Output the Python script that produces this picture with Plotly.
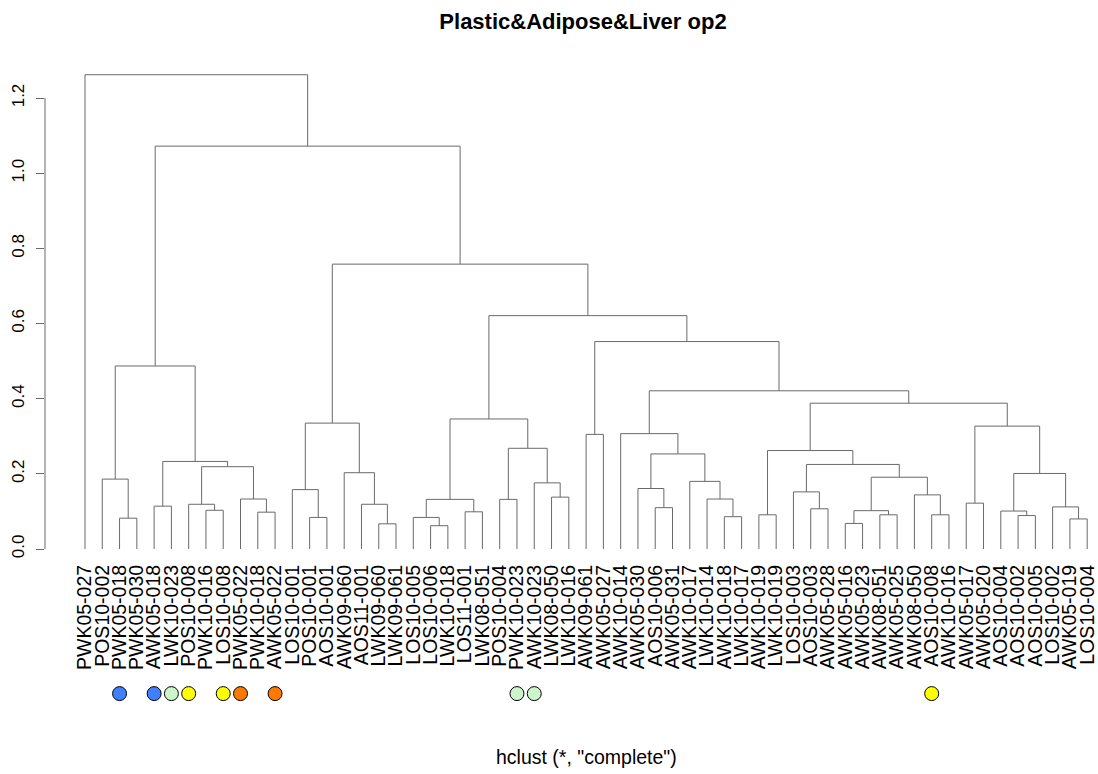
import plotly.graph_objects as go

# Leaf labels in dendrogram display order (left to right)
leaf_labels = [
    "PWK05-027", "POS10-002", "PWK05-018", "PWK05-030", "AWK05-018", "LWK10-023",
    "POS10-008", "PWK10-016", "LOS10-008", "PWK05-022", "PWK10-018", "AWK05-022",
    "LOS10-001", "POS10-001", "AOS10-001", "AWK09-060", "AOS11-001", "LWK09-060",
    "LWK09-061", "LOS10-005", "LOS10-006", "LWK10-018", "LOS11-001", "LWK08-051",
    "POS10-004", "PWK10-023", "AWK10-023", "LWK08-050", "LWK10-016", "AWK09-061",
    "AWK05-027", "AWK10-014", "AWK05-030", "AOS10-006", "AWK05-031", "AWK10-017",
    "LWK10-014", "AWK10-018", "LWK10-017", "AWK10-019", "LWK10-019", "LOS10-003",
    "AOS10-003", "AWK05-028", "AWK05-016", "AWK05-023", "AWK08-051", "AWK05-025",
    "AWK08-050", "AOS10-008", "AWK10-016", "AWK05-017", "AWK05-020", "AOS10-004",
    "AOS10-002", "AOS10-005", "LOS10-002", "AWK05-019", "LOS10-004",
]

# Merge steps: an int child is a leaf (1-based display position),
# a str child is an earlier merge id.
merge_id = [
    "a", "b", "c", "d", "e", "f", "g", "h", "i", "j",
    "k", "l", "m", "n", "o", "p",
    "q", "r", "s", "t", "u", "v", "w", "x", "y",
    "z", "aa", "ab", "ac", "ad", "ae", "af", "ag",
    "ah", "ai", "aj", "ak", "al", "am", "an", "ao", "ap", "aq", "ar",
    "as", "at", "au", "av", "aw", "ax", "ay", "az",
    "ba", "bb", "bc", "bd", "be", "bf",
]
merge_left = [
    3, 2, 5, 8, 7, 11, 10, "e", "c", "b",
    14, 13, 18, 17, 16, "l",
    21, 20, 23, "r", 25, 28, 27, "u", "t",
    30, 34, 33, 38, 37, 36, "ab", 32,
    40, 43, 42, 45, 47, "ak", 50, 49, "am", "aj", "ah",
    52, 55, 54, 58, 57, "au", "as", "ar",
    "ag", "z", "y", "p", "j", 1,
]
merge_right = [
    4, "a", 6, 9, "d", 12, "f", "g", "h", "i",
    15, "k", 19, "m", "n", "o",
    22, "q", 24, "s", 26, 29, "v", "w", "x",
    31, 35, "aa", 39, "ac", "ad", "ae", "af",
    41, 44, "ai", 46, 48, "al", 51, "an", "ao", "ap", "aq",
    53, 56, "at", 59, "av", "aw", "ax", "ay",
    "az", "ba", "bb", "bc", "bd", "be",
]
merge_height = [
    0.082, 0.186, 0.114, 0.103, 0.119, 0.098, 0.133, 0.219, 0.233, 0.487,
    0.084, 0.158, 0.067, 0.119, 0.203, 0.335,
    0.062, 0.084, 0.099, 0.132, 0.132, 0.138, 0.176, 0.268, 0.346,
    0.305, 0.110, 0.161, 0.086, 0.133, 0.180, 0.253, 0.307,
    0.091, 0.107, 0.152, 0.068, 0.091, 0.102, 0.091, 0.144, 0.191, 0.225, 0.262,
    0.122, 0.089, 0.101, 0.080, 0.112, 0.201, 0.327, 0.388,
    0.421, 0.552, 0.621, 0.758, 1.072, 1.262,
]

# Coloured group markers under selected leaves
dot_leaf = [3, 5, 6, 7, 9, 10, 12, 26, 27, 50]
dot_color = ["#4080FF", "#4080FF", "#CCF5CC", "#FFFF00", "#FFFF00",
             "#FF7800", "#FF7800", "#CCF5CC", "#CCF5CC", "#FFFF00"]

y_ticks = [0.0, 0.2, 0.4, 0.6, 0.8, 1.0, 1.2]

# ---- build dendrogram segments ----
pos = {}
hgt = {}


def child_xy(c):
    if isinstance(c, int):
        return float(c), 0.0
    return pos[c], hgt[c]


xs, ys = [], []
for mid, lc, rc, h in zip(merge_id, merge_left, merge_right, merge_height):
    xl, hl = child_xy(lc)
    xr, hr = child_xy(rc)
    xs += [xl, xl, xr, xr, None]
    ys += [hl, h, h, hr, None]
    pos[mid] = (xl + xr) / 2.0
    hgt[mid] = h

FONT = "Liberation Sans, Arial, Helvetica, sans-serif"
LINE = "#6a6a6a"

# page geometry (px)
W, H = 1098, 774
M_L, M_R, M_T, M_B = 45, 5, 60, 10
plot_h = H - M_T - M_B
tree_bottom_px = 560
tree_dom0 = (H - M_B - tree_bottom_px) / plot_h
dots_dom = [0.0, 0.2]

fig = go.Figure()
fig.add_trace(go.Scatter(
    x=xs, y=ys, mode="lines",
    line=dict(color=LINE, width=1),
    hoverinfo="skip", showlegend=False,
))
fig.add_trace(go.Scatter(
    x=dot_leaf, y=[0.5] * len(dot_leaf), mode="markers", yaxis="y2",
    marker=dict(size=14, color=dot_color, line=dict(color="black", width=1)),
    cliponaxis=False, hoverinfo="skip", showlegend=False,
))

# y axis line spanning only the tick range
fig.add_shape(type="line", xref="paper", yref="y",
              x0=0, x1=0, y0=y_ticks[0], y1=y_ticks[-1],
              line=dict(color=LINE, width=1))

fig.add_annotation(
    text='hclust (*, "complete")', xref="paper", yref="paper",
    x=(586.7 - M_L) / (W - M_L - M_R), y=(H - M_B - 757) / plot_h,
    xanchor="center", yanchor="middle",
    showarrow=False, font=dict(family=FONT, size=19.5, color="black"),
)

fig.update_layout(
    width=W, height=H,
    margin=dict(l=M_L, r=M_R, t=M_T, b=M_B),
    paper_bgcolor="white", plot_bgcolor="white",
    title=dict(
        text="Plastic&Adipose&Liver op2",
        xref="container", yref="container",
        x=583 / W, y=1 - 21 / H, xanchor="center", yanchor="middle",
        font=dict(family=FONT, size=22, color="black", weight="bold"),
    ),
    xaxis=dict(
        anchor="y",
        range=[1 - 40 / 17.28, 59 + 5.8 / 17.28],
        tickmode="array", tickvals=list(range(1, len(leaf_labels) + 1)),
        ticktext=leaf_labels, tickangle=-90, ticks="",
        tickfont=dict(family=FONT, size=19.5, color="black"),
        showgrid=False, zeroline=False, showline=False, automargin=False,
    ),
    yaxis=dict(
        domain=[tree_dom0, 1.0],
        range=[-11 / 375.8, (549 - M_T) / 375.8],
        tickmode="array", tickvals=y_ticks,
        ticktext=[f"{v:.1f}" for v in y_ticks],
        tickangle=-90, ticks="outside", ticklen=8, tickcolor=LINE, tickwidth=1,
        ticklabelstandoff=5,
        tickfont=dict(family=FONT, size=17, color="black"),
        showgrid=False, zeroline=False, showline=False, automargin=False,
    ),
    yaxis2=dict(
        domain=dots_dom, range=[0, 1], anchor="x",
        visible=False, fixedrange=True,
    ),
)

fig.write_html("out.html")
